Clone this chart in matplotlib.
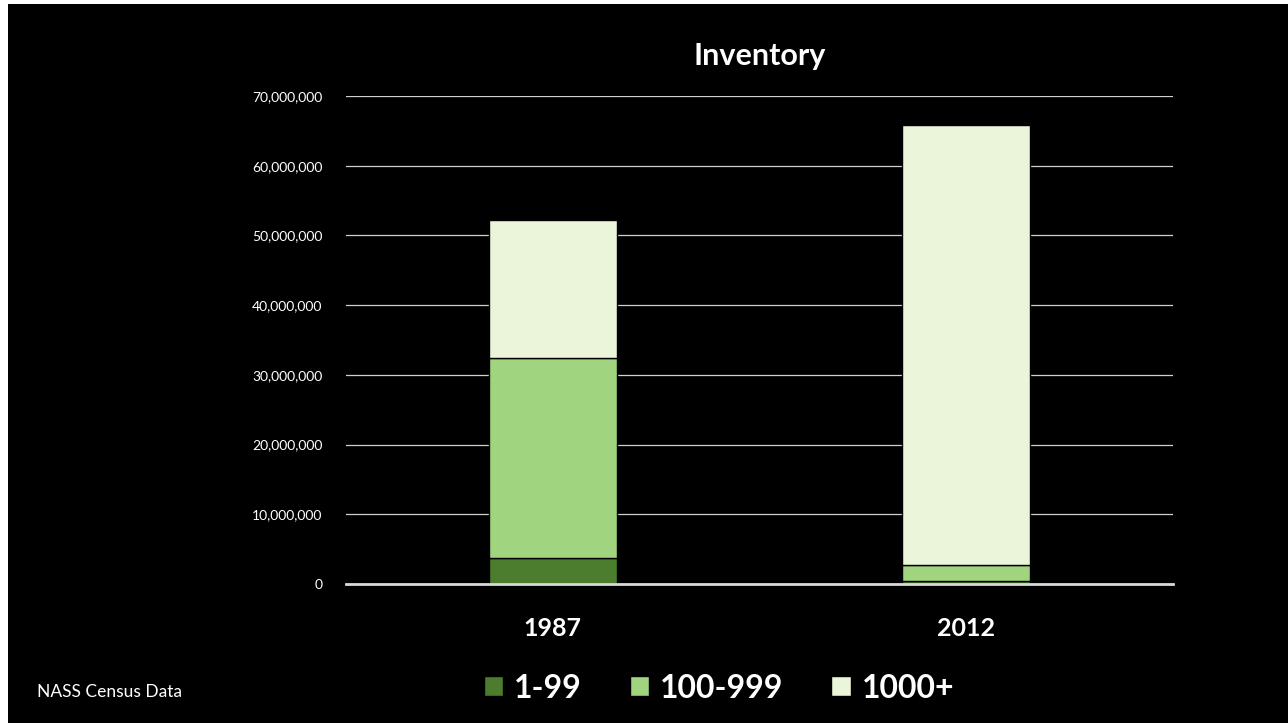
import numpy as np
import matplotlib.pyplot as plt
from matplotlib.patches import Rectangle
from matplotlib.ticker import FuncFormatter

plt.rcParams['font.family'] = ['Lato', 'DejaVu Sans']

# Inventory by farm size class (head)
years = ["1987", "2012"]
size_classes = ["1-99", "100-999", "1000+"]
small = [3.7e6, 0.45e6]
medium = [28.7e6, 2.3e6]
large = [19.8e6, 63.1e6]
colors = ["#4C7D2E", "#A1D47F", "#EAF5D9"]

fig = plt.figure(figsize=(12.88, 7.23), dpi=100)
fig.patch.set_facecolor("black")
# thin white border on left/top like the source slide
fig.patches.append(Rectangle((0, 0), 8 / 1288, 1, transform=fig.transFigure,
                             facecolor="white", edgecolor="none"))
fig.patches.append(Rectangle((0, 1 - 4 / 723), 1, 4 / 723, transform=fig.transFigure,
                             facecolor="white", edgecolor="none"))

ax = fig.add_axes([346 / 1288, 1 - 584 / 723, 827 / 1288, 488 / 723])
ax.set_facecolor("black")

x = np.arange(len(years))
w = 0.31
bottom = np.zeros(len(years))
for vals, lab, c in zip([small, medium, large], size_classes, colors):
    ax.bar(x, vals, w, bottom=bottom, color=c, edgecolor="black", linewidth=1,
           label=lab, zorder=3)
    bottom += np.array(vals)

ax.set_xlim(-0.5, 1.5)
ax.set_ylim(0, 70e6)
ax.set_yticks(np.arange(0, 70e6 + 1, 10e6))
ax.yaxis.set_major_formatter(FuncFormatter(lambda v, p: f"{v:,.0f}"))
ax.grid(axis="y", color="#d0d0d0", linewidth=0.9, zorder=1)
ax.set_axisbelow(True)
for s in ["top", "right", "left"]:
    ax.spines[s].set_visible(False)
ax.spines["bottom"].set_color("#d9d9d9")
ax.spines["bottom"].set_linewidth(2)
ax.spines["bottom"].set_zorder(4)

ax.set_xticks(x)
ax.set_xticklabels(years, fontsize=18, fontweight="bold", color="white")
ax.tick_params(axis="x", length=0, pad=24)
ax.tick_params(axis="y", length=0, pad=17, labelsize=10, labelcolor="white")

ax.set_title("Inventory", fontsize=22, fontweight="bold", color="white", pad=22)

leg = fig.legend(loc="center", bbox_to_anchor=(719 / 1288, 1 - 688 / 723), ncol=3,
                 frameon=False, fontsize=23, handlelength=0.6, handleheight=0.6,
                 handletextpad=0.35, columnspacing=1.5)
for t in leg.get_texts():
    t.set_color("white")
    t.set_fontweight("bold")

fig.text(37 / 1288, 1 - 692 / 723, "NASS Census Data", color="white", fontsize=12.5,
         va="center", ha="left")

fig.savefig("out.png", dpi=100, facecolor=fig.get_facecolor())
